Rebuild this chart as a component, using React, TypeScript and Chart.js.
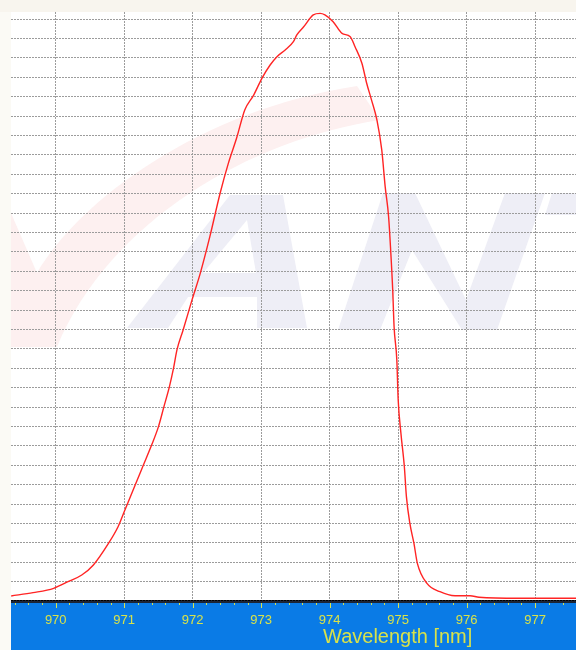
import React, { useEffect, useRef } from 'react';
import { Chart, registerables } from 'chart.js';

Chart.register(...registerables);

// ---- data ----
const wavelengths = [
  969.35, 969.67, 969.97, 970.18, 970.38, 970.55, 970.77, 970.91, 971.01, 971.16,
  971.28, 971.40, 971.50, 971.58, 971.66, 971.72, 971.77, 971.86, 971.99, 972.11,
  972.25, 972.40, 972.52, 972.64, 972.76, 972.89, 973.01, 973.13, 973.23, 973.35,
  973.47, 973.52, 973.62, 973.76, 973.86, 973.93, 974.05, 974.18, 974.30, 974.37,
  974.47, 974.54, 974.61, 974.69, 974.76, 974.81, 974.86, 974.89, 974.92, 974.94,
  974.98, 975.00, 975.04, 975.09, 975.12, 975.17, 975.23, 975.28, 975.42, 975.61,
  975.83, 976.05, 976.18, 976.76, 977.60,
];
const intensities = [
  260, 430, 655, 995, 1340, 1860, 2970, 3830, 4690, 5980,
  7010, 8040, 8990, 10020, 11050, 12000, 12940, 13970, 15520, 16890,
  18780, 21020, 22560, 23850, 25310, 26080, 26940, 27630, 28060, 28400,
  28830, 29180, 29600, 30210, 30290, 30210, 29860, 29260, 29090, 28570,
  27720, 26690, 25830, 24790, 23250, 21360, 19810, 18090, 16030, 14140,
  12420, 10360, 8640, 6920, 5380, 4010, 2970, 1940, 910, 480,
  270, 270, 190, 140, 140,
];
const xTickLabels = [970, 971, 972, 973, 974, 975, 976, 977];
const yGridValues = [
  1000, 2000, 3000, 4000, 5000, 6000, 7000, 8000, 9000, 10000,
  11000, 12000, 13000, 14000, 15000, 16000, 17000, 18000, 19000, 20000,
  21000, 22000, 23000, 24000, 25000, 26000, 27000, 28000, 29000, 30000,
];
const xMin = 969.347;
const xMax = 977.596;
const yMax = 30361;
const xMinorStep = 0.2;
const xTitle = 'Wavelength [nm]';

const YELLOW = '#d8e24a';
const BLUE = '#0a7be6';
const GRID = '#9c9c9c';

const decorPlugin = {
  id: 'decor',
  beforeDraw(chart: any) {
    const { ctx, chartArea: a, width, height } = chart;
    ctx.save();
    ctx.fillStyle = '#fbfaf5';
    ctx.fillRect(0, 0, width, height);
    ctx.fillStyle = '#f8f5ee';
    ctx.fillRect(0, 0, width, a.top);
    ctx.fillStyle = '#ffffff';
    ctx.fillRect(a.left, a.top, a.right - a.left, a.bottom - a.top);
    ctx.fillStyle = BLUE;
    ctx.fillRect(a.left, a.bottom, a.right - a.left, height - a.bottom);

    // faint logo watermark (background decoration)
    ctx.beginPath();
    ctx.rect(a.left, a.top, a.right - a.left, a.bottom - a.top);
    ctx.clip();
    ctx.fillStyle = '#fdf0f0';
    ctx.beginPath();
    ctx.moveTo(11, 213);
    ctx.lineTo(37, 273);
    ctx.bezierCurveTo(80, 200, 200, 110, 357, 86);
    ctx.lineTo(380, 120);
    ctx.bezierCurveTo(250, 140, 110, 220, 57, 347);
    ctx.lineTo(11, 347);
    ctx.closePath();
    ctx.fill();

    ctx.fillStyle = '#eeeef6';
    // A
    ctx.beginPath();
    ctx.moveTo(127, 328);
    ctx.lineTo(230, 195);
    ctx.lineTo(283, 195);
    ctx.lineTo(307, 328);
    ctx.lineTo(257, 328);
    ctx.lineTo(257, 297);
    ctx.lineTo(188, 297);
    ctx.lineTo(168, 328);
    ctx.closePath();
    ctx.moveTo(247, 220);
    ctx.lineTo(256, 273);
    ctx.lineTo(203, 273);
    ctx.closePath();
    ctx.fill('evenodd');
    // N
    ctx.beginPath();
    ctx.moveTo(338, 330);
    ctx.lineTo(383, 193);
    ctx.lineTo(415, 193);
    ctx.lineTo(466, 300);
    ctx.lineTo(505, 193);
    ctx.lineTo(545, 193);
    ctx.lineTo(497, 330);
    ctx.lineTo(462, 330);
    ctx.lineTo(412, 250);
    ctx.lineTo(380, 330);
    ctx.closePath();
    ctx.fill();
    // partial next letter
    ctx.beginPath();
    ctx.moveTo(552, 193);
    ctx.lineTo(576, 193);
    ctx.lineTo(576, 215);
    ctx.lineTo(545, 215);
    ctx.closePath();
    ctx.fill();
    ctx.restore();
  },
  afterDraw(chart: any) {
    const { ctx, chartArea: a } = chart;
    const xs = chart.scales.x;
    ctx.save();
    // axis line
    ctx.fillStyle = '#1c2434';
    ctx.fillRect(a.left, a.bottom - 1, a.right - a.left, 3);
    ctx.fillStyle = '#000000';
    for (let px = a.left; px < a.right; px += 3) {
      ctx.fillRect(px, a.bottom - 1, 2, 1);
    }
    // minor / major ticks
    ctx.fillStyle = YELLOW;
    const start = Math.ceil(xMin / xMinorStep) * xMinorStep;
    for (let i = 0; i < 100; i++) {
      const v = start + i * xMinorStep;
      if (v > xMax) break;
      const px = Math.round(xs.getPixelForValue(v));
      const major = Math.abs(v - Math.round(v)) < 1e-6;
      ctx.fillRect(px, a.bottom + 2, 1, major ? 5 : 2);
    }
    // axis title
    ctx.font = '20px "Liberation Sans", Arial, sans-serif';
    ctx.fillStyle = YELLOW;
    ctx.textAlign = 'left';
    ctx.textBaseline = 'alphabetic';
    ctx.fillText(xTitle, 323, 643);
    ctx.restore();
  },
};

export default function App() {
  const ref = useRef<HTMLCanvasElement | null>(null);
  useEffect(() => {
    if (!ref.current) return;
    const chart = new Chart(ref.current, {
      type: 'line',
      data: {
        datasets: [
          {
            data: wavelengths.map((w, i) => ({ x: w, y: intensities[i] })),
            borderColor: '#ff2424',
            borderWidth: 1.4,
            pointRadius: 0,
            cubicInterpolationMode: 'monotone',
            fill: false,
          },
        ],
      },
      options: {
        responsive: false,
        animation: false,
        layout: { padding: { left: 11, top: 12, right: 0, bottom: 0 } },
        plugins: { legend: { display: false }, tooltip: { enabled: false } },
        scales: {
          x: {
            type: 'linear',
            min: xMin,
            max: xMax,
            afterBuildTicks: (s: any) => {
              s.ticks = xTickLabels.map((v) => ({ value: v }));
            },
            afterFit: (s: any) => {
              s.height = 49;
            },
            ticks: {
              stepSize: 1,
              color: YELLOW,
              font: { family: '"Liberation Sans", Arial, sans-serif', size: 13 },
              padding: 12,
              maxRotation: 0,
              autoSkip: false,
              callback: (v: any) => String(v),
            },
            grid: { color: GRID, lineWidth: 1, drawTicks: false },
            border: { display: false, dash: [2, 1] },
          },
          y: {
            type: 'linear',
            min: 0,
            max: yMax,
            afterBuildTicks: (s: any) => {
              s.ticks = yGridValues.map((v) => ({ value: v }));
            },
            afterFit: (s: any) => {
              s.width = 0;
            },
            ticks: { display: true, autoSkip: false, padding: 0, callback: () => '' },
            grid: { color: GRID, lineWidth: 1, drawTicks: false },
            border: { display: false, dash: [2, 1] },
          },
        },
      },
      plugins: [decorPlugin],
    });
    return () => chart.destroy();
  }, []);
  return (
    <div style={{ position: 'absolute', left: 0, top: 0, width: 576, height: 650 }}>
      <canvas ref={ref} width={576} height={650} style={{ display: 'block' }} />
    </div>
  );
}
